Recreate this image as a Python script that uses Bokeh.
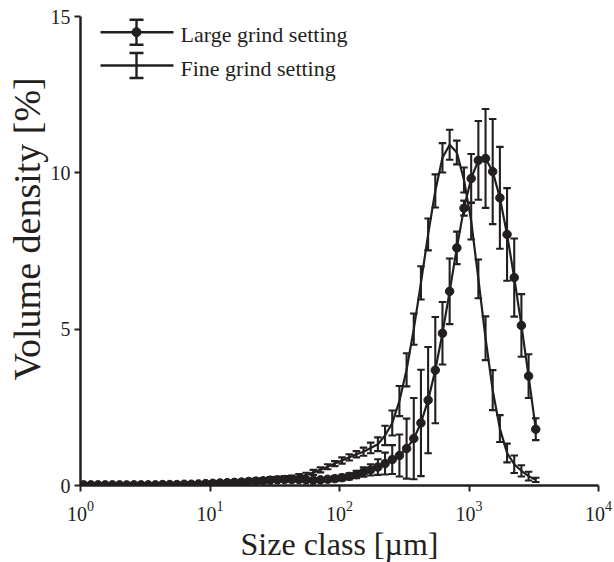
import numpy as np
from bokeh.plotting import figure
from bokeh.models import (ColumnDataSource, Whisker, TeeHead, Range1d,
                          LinearScale, FixedTicker, Title)
from bokeh.core.properties import value
from bokeh.embed import file_html
from bokeh.resources import INLINE

# ---------------- data ----------------
size_um = [1.058, 1.202, 1.366, 1.552, 1.763, 2.003, 2.275, 2.585, 2.937, 3.336,
           3.790, 4.306, 4.892, 5.558, 6.314, 7.173, 8.150, 9.259, 10.52, 11.95,
           13.58, 15.42, 17.52, 19.91, 22.61, 25.69, 29.19, 33.16, 37.67, 42.80,
           48.62, 55.24, 62.76, 71.30, 81.00, 92.03, 104.6, 118.8, 135.0, 153.3,
           174.2, 197.9, 224.8, 255.4, 290.2, 329.7, 374.6, 425.5, 483.4, 549.2,
           624.0, 708.9, 805.4, 915.0, 1039.5, 1181.0, 1342.0, 1524.0, 1732.0, 1967.0,
           2235.0, 2539.0, 2885.0, 3277.0]

large_mean = [0.02, 0.02, 0.02, 0.02, 0.02, 0.02, 0.02, 0.02, 0.02, 0.02,
              0.02, 0.03, 0.03, 0.03, 0.04, 0.04, 0.05, 0.06, 0.07, 0.08,
              0.09, 0.10, 0.11, 0.13, 0.14, 0.15, 0.17, 0.18, 0.19, 0.19,
              0.19, 0.18, 0.17, 0.18, 0.20, 0.22, 0.25, 0.29, 0.35, 0.43,
              0.50, 0.59, 0.70, 0.83, 0.96, 1.18, 1.50, 2.00, 2.73, 3.69,
              4.87, 6.21, 7.60, 8.87, 9.82, 10.40, 10.46, 10.04, 9.20, 8.03,
              6.65, 5.12, 3.50, 1.80]

large_sd = [0.02, 0.02, 0.02, 0.02, 0.02, 0.02, 0.02, 0.02, 0.02, 0.02,
            0.02, 0.03, 0.03, 0.03, 0.03, 0.03, 0.03, 0.03, 0.05, 0.05,
            0.05, 0.05, 0.05, 0.05, 0.05, 0.05, 0.06, 0.06, 0.06, 0.06,
            0.06, 0.06, 0.06, 0.06, 0.07, 0.08, 0.09, 0.10, 0.12, 0.15,
            0.18, 0.25, 0.35, 0.46, 0.67, 0.96, 1.30, 1.70, 1.70, 1.70,
            1.00, 1.05, 0.52, 0.24, 0.78, 1.26, 1.58, 1.68, 1.63, 1.48,
            1.25, 1.00, 0.70, 0.35]

fine_mean = [0.02, 0.02, 0.02, 0.02, 0.02, 0.02, 0.02, 0.02, 0.02, 0.02,
             0.02, 0.02, 0.03, 0.03, 0.04, 0.05, 0.06, 0.07, 0.08, 0.09,
             0.11, 0.12, 0.14, 0.16, 0.18, 0.20, 0.21, 0.22, 0.24, 0.26,
             0.29, 0.33, 0.42, 0.50, 0.60, 0.70, 0.80, 0.90, 1.00, 1.08,
             1.20, 1.32, 1.60, 2.00, 2.70, 3.70, 5.00, 6.48, 8.03, 9.42,
             10.48, 10.90, 10.65, 9.77, 8.46, 6.61, 4.71, 3.05, 1.82, 1.04,
             0.68, 0.47, 0.30, 0.18]

fine_sd = [0.02, 0.02, 0.02, 0.02, 0.02, 0.02, 0.02, 0.02, 0.02, 0.02,
           0.02, 0.02, 0.02, 0.02, 0.02, 0.02, 0.02, 0.02, 0.04, 0.04,
           0.04, 0.04, 0.04, 0.04, 0.04, 0.04, 0.06, 0.06, 0.06, 0.06,
           0.08, 0.08, 0.08, 0.08, 0.08, 0.08, 0.10, 0.10, 0.10, 0.13,
           0.17, 0.22, 0.31, 0.40, 0.48, 0.53, 0.50, 0.53, 0.51, 0.53,
           0.47, 0.48, 0.38, 0.40, 0.59, 0.62, 0.70, 0.64, 0.43, 0.30,
           0.28, 0.18, 0.14, 0.07]

x_ticks = [1, 10, 100, 1000, 10000]
y_ticks = [0, 5, 10, 15]
series_labels = ["Large grind setting", "Fine grind setting"]
x_title = "Size class [µm]"
y_title = "Volume density [%]"

# ---------------- style / layout ----------------
INK = "#231f20"
FONT = "Liberation Serif"
LW = 2.2
EW = 2.1

p = figure(frame_width=518, frame_height=469,
           x_axis_type="log", x_range=Range1d(1, 10000), y_range=Range1d(0, 15),
           output_backend="svg", toolbar_location=None,
           min_border_left=80, min_border_right=16, min_border_top=16, min_border_bottom=77)
p.outline_line_color = None
p.grid.visible = False
p.background_fill_color = "white"
p.border_fill_color = "white"

p.xaxis.ticker = FixedTicker(ticks=x_ticks)
p.yaxis.ticker = FixedTicker(ticks=y_ticks)
for ax in (p.xaxis, p.yaxis):
    ax.axis_line_width = 2.5
    ax.axis_line_color = INK
    ax.major_tick_line_width = 2
    ax.major_tick_line_color = INK
    ax.major_tick_out = 6
    ax.major_tick_in = 0
    ax.minor_tick_line_color = None
    ax.major_label_text_font = FONT
    ax.major_label_text_font_size = "20px"
    ax.major_label_text_color = INK
    ax.axis_label_text_font = FONT
    ax.axis_label_text_font_size = "32px"
    ax.axis_label_text_font_style = "normal"
    ax.axis_label_text_color = INK
p.xaxis.axis_label = x_title
p.xaxis.major_label_standoff = 9
p.xaxis.axis_label_standoff = 2
p.yaxis.major_label_standoff = 4

# y title as a side title so it can sit slightly above centre, as in the original
p.add_layout(Title(text=y_title, align="left", offset=105, standoff=0,
                   text_font=FONT, text_font_size="38px", text_font_style="normal",
                   text_color=INK), "left")

def add_series(mean, sd, markers):
    m = np.asarray(mean)
    s = np.asarray(sd)
    src = ColumnDataSource(dict(x=size_um, y=m, lo=m - s, hi=m + s))
    p.line("x", "y", source=src, line_color=INK, line_width=LW)
    w = Whisker(source=src, base="x", lower="lo", upper="hi", dimension="height",
                line_color=INK, line_width=EW,
                upper_head=TeeHead(size=7.5, line_color=INK, line_width=EW),
                lower_head=TeeHead(size=7.5, line_color=INK, line_width=EW))
    p.add_layout(w)
    if markers:
        p.scatter("x", "y", source=src, size=8.5, fill_color=INK, line_color=INK)

add_series(fine_mean, fine_sd, False)
add_series(large_mean, large_sd, True)

# ---------------- hand-drawn legend (pixel-like extra ranges) ----------------
p.extra_x_ranges = {"lg": Range1d(80, 598)}
p.extra_y_ranges = {"lg": Range1d(485, 16)}
p.extra_x_scales = {"lg": LinearScale()}
p.extra_y_scales = {"lg": LinearScale()}

leg_row_y = [31.7, 65.0]
leg_text_base = [33.5, 67.5]
leg_x0, leg_x1, leg_xc, leg_text_x, leg_half = 100, 173, 136, 180, 12.5

for yy in leg_row_y:
    p.line([leg_x0, leg_x1], [yy, yy], x_range_name="lg", y_range_name="lg",
           line_color=INK, line_width=2.4)
lsrc = ColumnDataSource(dict(x=[leg_xc] * 2,
                             lo=[yy + leg_half for yy in leg_row_y],
                             hi=[yy - leg_half for yy in leg_row_y]))
p.add_layout(Whisker(source=lsrc, base="x", lower="lo", upper="hi", dimension="height",
                     x_range_name="lg", y_range_name="lg",
                     line_color=INK, line_width=2.4,
                     upper_head=TeeHead(size=14, line_color=INK, line_width=2.4),
                     lower_head=TeeHead(size=14, line_color=INK, line_width=2.4)))
p.scatter([leg_xc], [leg_row_y[0]], x_range_name="lg", y_range_name="lg",
          size=9, fill_color=INK, line_color=INK)
p.text(x=[leg_text_x] * 2, y=leg_text_base, text=series_labels,
       x_range_name="lg", y_range_name="lg",
       text_font=value(FONT), text_font_size="22px", text_color=INK,
       text_baseline="alphabetic", text_align="left")

open("out.html", "w").write(file_html(p, INLINE))
